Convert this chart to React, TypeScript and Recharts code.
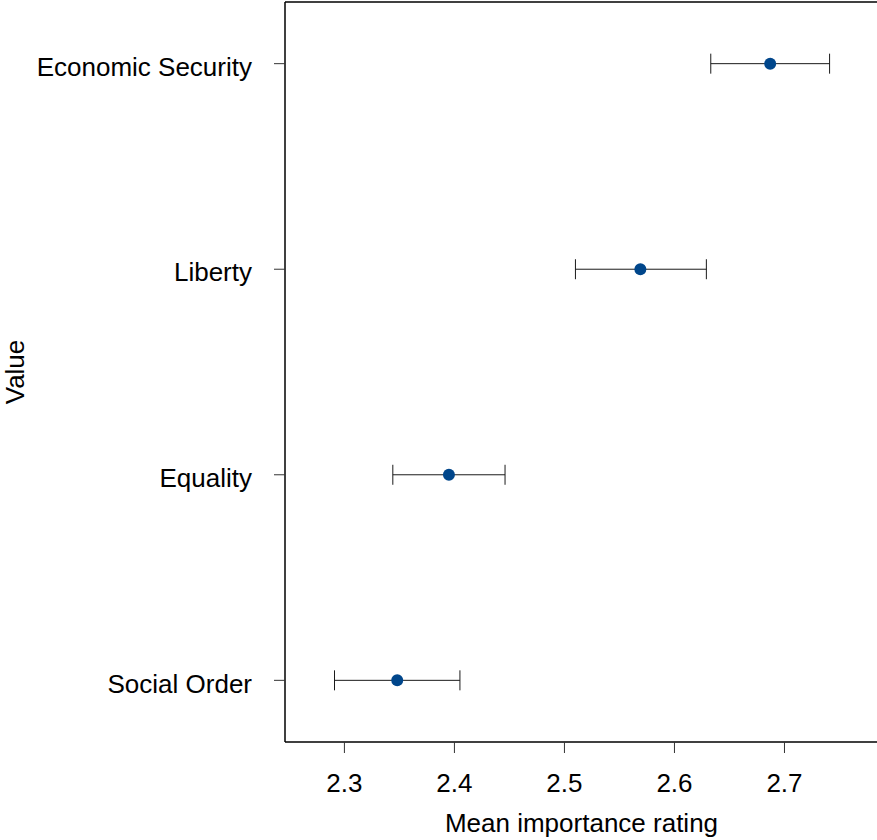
import {
  ErrorBar,
  ReferenceLine,
  Scatter,
  ScatterChart,
  XAxis,
  YAxis,
} from "recharts";

// top to bottom, as in the figure
const VALUES = ["Economic Security", "Liberty", "Equality", "Social Order"];
const MEANS = [2.687, 2.569, 2.395, 2.348];
const LOWER = [2.633, 2.51, 2.344, 2.291];
const UPPER = [2.741, 2.629, 2.446, 2.405];
const X_TICKS = [2.3, 2.4, 2.5, 2.6, 2.7];
const Y_TICKS = [1, 2, 3, 4];

const FONT = "'Liberation Sans', Arial, Helvetica, sans-serif";
const DOT = "#00468b";

const data = VALUES.map((name, i) => ({
  name,
  rank: VALUES.length - i,
  mean: MEANS[i],
  err: [MEANS[i] - LOWER[i], UPPER[i] - MEANS[i]],
}));

const Dot = (props: any) => (
  <circle cx={props.cx} cy={props.cy} r={6} fill={DOT} />
);

export default function App() {
  return (
    <div
      style={{
        position: "absolute",
        left: 0,
        top: 0,
        width: 877,
        height: 840,
        overflow: "hidden",
        background: "#fff",
      }}
    >
      <ScatterChart
        width={880}
        height={840}
        margin={{ top: 2, right: 2, bottom: 0, left: 0 }}
        style={{ fontFamily: FONT }}
      >
        <XAxis
          type="number"
          dataKey="mean"
          domain={[2.246, 2.785]}
          ticks={X_TICKS}
          allowDataOverflow
          height={98}
          tickSize={11}
          tickMargin={21}
          axisLine={{ stroke: "#000", strokeWidth: 1.5 }}
          tickLine={{ stroke: "#333", strokeWidth: 1 }}
          tick={{ fill: "#000", fontSize: 26 }}
          label={{
            content: ({ viewBox }: any) => (
              <text
                x={viewBox.x + viewBox.width / 2}
                y={viewBox.y + viewBox.height - 8}
                textAnchor="middle"
                fontSize={26}
                fill="#000"
                fontFamily={FONT}
              >
                Mean importance rating
              </text>
            ),
          }}
        />
        <YAxis
          type="number"
          dataKey="rank"
          domain={[0.7, 4.3]}
          ticks={Y_TICKS}
          allowDataOverflow
          width={285}
          tickSize={11}
          tickMargin={22}
          tickFormatter={(v: number) => VALUES[VALUES.length - v]}
          axisLine={{ stroke: "#000", strokeWidth: 1.5 }}
          tickLine={{ stroke: "#333", strokeWidth: 1 }}
          tick={{ fill: "#000", fontSize: 26, dy: 3 }}
          label={{
            content: ({ viewBox }: any) => {
              const x = 24;
              const y = viewBox.y + viewBox.height / 2;
              return (
                <text
                  x={x}
                  y={y}
                  transform={`rotate(-90, ${x}, ${y})`}
                  textAnchor="middle"
                  fontSize={26}
                  fill="#000"
                  fontFamily={FONT}
                >
                  Value
                </text>
              );
            },
          }}
        />
        <ReferenceLine y={4.3} stroke="#000" strokeWidth={1.5} ifOverflow="visible" />
        <Scatter data={data} shape={Dot} isAnimationActive={false}>
          <ErrorBar
            dataKey="err"
            direction="x"
            width={10}
            stroke="#1a1a1a"
            strokeWidth={1}
          />
        </Scatter>
      </ScatterChart>
    </div>
  );
}
